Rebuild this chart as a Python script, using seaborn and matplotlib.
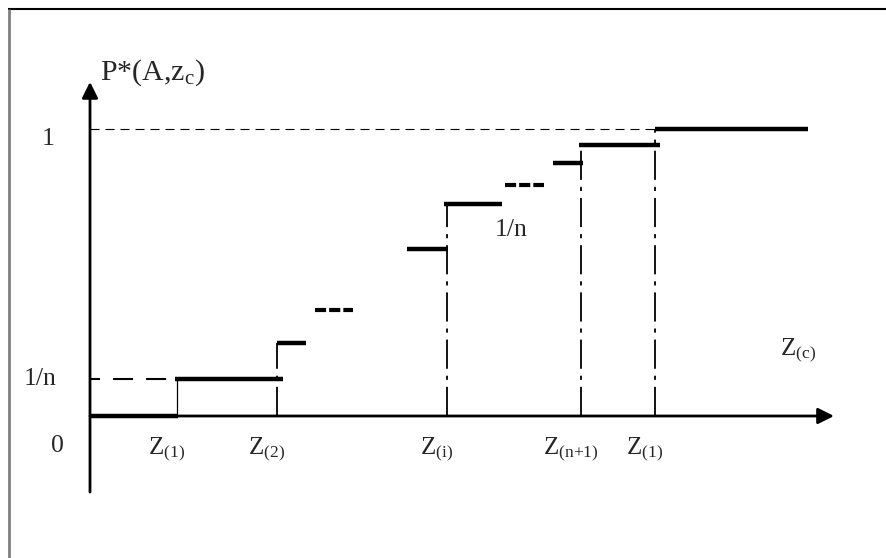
import matplotlib
matplotlib.use('agg')
import matplotlib.pyplot as plt
import seaborn as sns
import pandas as pd
from matplotlib.lines import Line2D

# step levels of P*(A, z_c) (1 = top level) and the z-range each step covers
step_start = [0.00, 0.85, 1.87, 3.17, 3.54, 4.63, 4.89, 5.65]
step_end = [0.88, 1.93, 2.16, 3.58, 4.12, 4.93, 5.70, 7.18]
step_level = [0.0, 0.129, 0.254, 0.582, 0.739, 0.882, 0.944, 1.0]

# "---" marks for the omitted steps
skip_start = [2.25, 4.15]
skip_end = [2.63, 4.54]
skip_level = [0.369, 0.805]

# order statistics on the z axis
z_knots = [0.87, 1.87, 3.57, 4.91, 5.65]
z_labels = [r"Z$_{(1)}$", r"Z$_{(2)}$", r"Z$_{(\mathrm{i})}$",
            r"Z$_{\mathrm{(n{+}1)}}$", r"Z$_{(1)}$"]
guide_top = [0.129, 0.254, 0.739, 0.944, 1.0]

one_over_n = 0.129
x_end = 7.44
y_bottom = -0.265
y_top = 1.164

sns.set_theme(style="white")
plt.rcParams['font.family'] = ['Liberation Serif', 'DejaVu Serif']
plt.rcParams['mathtext.fontset'] = 'custom'
plt.rcParams['mathtext.rm'] = 'Liberation Serif'
plt.rcParams['mathtext.it'] = 'Liberation Serif:italic'
plt.rcParams['lines.scale_dashes'] = False
plt.rcParams['lines.solid_capstyle'] = 'butt'
plt.rcParams['lines.dash_capstyle'] = 'butt'

fig = plt.figure(figsize=(8.87, 5.58), dpi=100)
ax = fig.add_axes([0, 0, 1, 1])
ax.set_xlim(-0.90, 7.97)
ax.set_ylim(-142 / 287, 416 / 287)
ax.axis('off')

# frame of the original figure (top and left edge only)
fig.add_artist(Line2D([8 / 887, 1], [1 - 9 / 558, 1 - 9 / 558], color='black', lw=1.5))
fig.add_artist(Line2D([9 / 887, 9 / 887], [0, 1 - 9 / 558], color='#808080', lw=2))

# reference dashed lines at 1 and 1/n
ax.plot([0, z_knots[-1]], [1, 1], color='black', lw=0.8, ls=(0, (6.5, 4.3)))
ax.plot([0, step_start[1]], [one_over_n, one_over_n], color='black', lw=1.5,
        ls=(7.2, (14.4, 9.4)))

# guides from the axis up to each jump
ax.plot([z_knots[0], z_knots[0]], [0, guide_top[0]], color='black', lw=0.9)
for zx, top in zip(z_knots[1:], guide_top[1:]):
    ax.plot([zx, zx], [0, top], color='black', lw=1.3, ls=(0, (21, 5, 3, 5)))

# axes with arrows
ax.annotate("", xy=(x_end, 0), xytext=(0, 0),
            arrowprops=dict(arrowstyle='-|>', lw=2, color='black',
                            mutation_scale=24, shrinkA=0, shrinkB=0))
ax.annotate("", xy=(0, y_top), xytext=(0, y_bottom),
            arrowprops=dict(arrowstyle='-|>', lw=2, color='black',
                            mutation_scale=24, shrinkA=0, shrinkB=0))

# the step function itself
steps = pd.DataFrame({
    "z": [v for pair in zip(step_start, step_end) for v in pair],
    "p": [v for v in step_level for _ in range(2)],
    "seg": [i for i in range(len(step_level)) for _ in range(2)],
})
sns.lineplot(data=steps, x="z", y="p", units="seg", estimator=None, sort=False,
             color='black', lw=3.2, ax=ax, legend=False)

skips = pd.DataFrame({
    "z": [v for pair in zip(skip_start, skip_end) for v in pair],
    "p": [v for v in skip_level for _ in range(2)],
    "seg": [i for i in range(len(skip_level)) for _ in range(2)],
})
sns.lineplot(data=skips, x="z", y="p", units="seg", estimator=None, sort=False,
             color='black', lw=3, ls=(0, (8, 2.2)), ax=ax, legend=False)

# labels
ax.text(-0.42, 0.944, "1", fontsize=18.5, ha='center', va='baseline')
ax.text(-0.50, 0.108, "1/n", fontsize=18.5, ha='center', va='baseline')
ax.text(-0.33, -0.125, "0", fontsize=18.5, ha='center', va='baseline')
ax.text(4.21, 0.627, "1/n", fontsize=18.5, ha='center', va='baseline')
for zx, lab in zip(z_knots, z_labels):
    ax.text(zx - 0.1, -0.132, lab, fontsize=18, ha='center', va='baseline')
ax.text(7.08, 0.213, r"Z$_{\mathrm{(c)}}$", fontsize=18, ha='center', va='baseline')
ax.text(0.10, 1.171, r"P*(A,z$_{\mathrm{c}}$)", fontsize=21.5, ha='left', va='baseline')

fig.savefig("out.png", dpi=100)
